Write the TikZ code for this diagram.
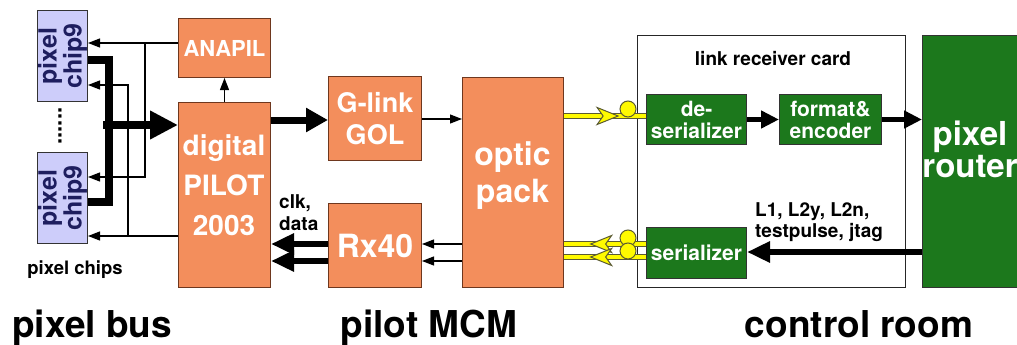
\documentclass[tikz,border=0pt]{standalone}
\usepackage{fontspec}
\setmainfont{TeX Gyre Heros}
\usetikzlibrary{arrows.meta,decorations.markings,calc}
\definecolor{orng}{RGB}{243,142,92}
\definecolor{orngedge}{RGB}{110,55,30}
\definecolor{grn}{RGB}{28,120,28}
\definecolor{chipfill}{RGB}{205,205,250}
\definecolor{chiptext}{RGB}{30,30,95}
\definecolor{fibyel}{RGB}{255,250,0}
\definecolor{fibedge}{RGB}{90,90,50}
\newcommand{\myfs}[2]{\fontsize{#1pt}{#2pt}\selectfont\bfseries}
\tikzset{
 obox/.style={draw=orngedge, fill=orng, line width=1pt, text=white, align=center, inner sep=0pt, anchor=north west},
 gbox/.style={draw=black!80, fill=grn, line width=1pt, text=white, align=center, inner sep=0pt, anchor=north west},
 chipbox/.style={draw=black!80, fill=chipfill, line width=1pt, inner sep=0pt, anchor=north west},
 cardbox/.style={draw=black!85, fill=white, line width=1pt, inner sep=0pt, anchor=north west},
 boxtext/.style={text=white, align=center, inner sep=0pt},
 lbl/.style={text=black, inner sep=0pt},
 thinarrow/.style={line width=1.2pt, -{Triangle[length=12pt,width=9pt]}},
 busline/.style={line width=7.5pt},
 busarrow/.style={line width=7.5pt, -{Triangle[length=28pt,width=27pt]}},
 bigarrow/.style={line width=7pt, -{Triangle[length=22pt,width=23pt]}},
 medarrow/.style={line width=6pt, -{Triangle[length=23pt,width=20pt]}},
 smallarrow/.style={line width=4.5pt, -{Triangle[length=18pt,width=17pt]}},
 fiber/.style={draw=fibedge, line width=1pt, double=fibyel, double distance=4.5pt},
 fibertip/.style={postaction={decorate}, decoration={markings, mark=at position #1 with {\filldraw[draw=fibedge, fill=fibyel, line width=1pt] (0pt,0pt) -- (-21pt,8.5pt) -- (-15pt,0pt) -- (-21pt,-8.5pt) -- cycle;}}},
 fibcirc/.style={circle, draw=fibedge, fill=fibyel, line width=1pt, minimum size=16pt, inner sep=0pt},
}
\begin{document}
\begin{tikzpicture}[x=1pt,y=-1pt]
\useasboundingbox[fill=white] (0,0) rectangle (1017,345);

% pixel chips
\node[chipbox, minimum width=50pt, minimum height=91pt] (chip1) at (37,10) {};
\node[rotate=90, text=chiptext, align=center, inner sep=0pt, font=\myfs{25}{24}] (chip1t) at (chip1.center) {pixel\\chip9};
\node[chipbox, minimum width=50pt, minimum height=91pt] (chip2) at (37,152) {};
\node[rotate=90, text=chiptext, align=center, inner sep=0pt, font=\myfs{25}{24}] (chip2t) at (chip2.center) {pixel\\chip9};
\node[rotate=90, lbl, font=\myfs{22}{22}] (dots) at (60,126) {......};
\node[lbl, font=\myfs{18.5}{20}] (chipslbl) at (75,270) {pixel chips};

% pilot MCM
\node[obox, minimum width=92pt, minimum height=59pt, font=\myfs{22}{26}] (anapil) at (178,18) {ANAPIL};
\node[obox, minimum width=92pt, minimum height=185pt] (pilot) at (178,102) {};
\node[boxtext, font=\myfs{28}{40}] (pilott) at (224,185) {digital\\PILOT\\2003};
\node[obox, minimum width=93pt, minimum height=84pt, font=\myfs{27}{32}] (glink) at (328,76) {G-link\\GOL};
\node[obox, minimum width=93pt, minimum height=84pt, font=\myfs{32}{36}] (rx) at (328,203) {Rx40};
\node[obox, minimum width=101pt, minimum height=210pt] (optic) at (462,77) {};
\node[boxtext, font=\myfs{32}{37}] (optict) at (512.5,176) {optic\\pack};
\node[lbl, align=left, anchor=west, font=\myfs{19}{22}] (clk) at (279,213) {clk,\\data};

% control room
\node[cardbox, minimum width=268pt, minimum height=252pt] (card) at (637,35) {};
\node[lbl, font=\myfs{19}{22}] (cardlbl) at (773,59) {link receiver card};
\node[gbox, minimum width=100pt, minimum height=50pt, font=\myfs{21}{22}] (deser) at (646,94) {de-\\serializer};
\node[gbox, minimum width=102pt, minimum height=50pt, font=\myfs{21}{22}] (fmt) at (779,94) {format\&\\encoder};
\node[gbox, minimum width=100pt, minimum height=51pt, font=\myfs{21}{22}] (ser) at (646,227) {serializer};
\node[gbox, minimum width=110pt, minimum height=252pt] (router) at (922,35) {};
\node[boxtext, font=\myfs{33}{32}] (routert) at (970,149) {pixel\\router};
\node[lbl, align=left, anchor=west, font=\myfs{19}{21}] (trig) at (755,222) {L1, L2y, L2n,\\testpulse, jtag};

% section labels
\node[lbl, anchor=base west, font=\myfs{37}{40}] (secbus) at (12,337) {pixel bus};
\node[lbl, anchor=base, font=\myfs{37}{40}] (secmcm) at (429,337) {pilot MCM};
\node[lbl, anchor=base, font=\myfs{37}{40}] (secroom) at (859,337) {control room};

% thin control lines to chips
\draw[thinarrow] (anapil.west |- 0,43) -- (chip1.east |- 0,43);
\draw[thinarrow] (145,43) |- (chip2.east |- 0,177);
\draw[thinarrow] (pilot.west |- 0,236) -- (chip2.east |- 0,236);
\draw[thinarrow] (128,236) |- (chip1.east |- 0,85);

% data bus
\draw[busline] (chip1.east |- 0,60) -| (109,202) -- (chip2.east |- 0,202);
\draw[busarrow] (103,125) -- (pilot.west |- 0,125);

% pilot MCM connections
\draw[thinarrow] (pilot.north) -- (anapil.south);
\draw[bigarrow] (pilot.east |- 0,120) -- (glink.west |- 0,120);
\draw[thinarrow] (glink.east |- 0,119) -- (optic.west |- 0,119);
\draw[thinarrow] (optic.west |- 0,244) -- (rx.east |- 0,244);
\draw[thinarrow] (optic.west |- 0,261) -- (rx.east |- 0,261);
\draw[medarrow] (rx.west |- 0,244) -- (pilot.east |- 0,244);
\draw[medarrow] (rx.west |- 0,261) -- (pilot.east |- 0,261);

% control room connections
\draw[smallarrow] (deser.east) -- (fmt.west);
\draw[smallarrow] (fmt.east) -- (router.west |- fmt.east);
\draw[medarrow] (router.west |- 0,252) -- (ser.east |- 0,252);

% optical fibres
\draw[fiber, fibertip=0.66] (optic.east |- 0,116) -- (deser.west |- 0,116);
\draw[fiber, fibertip=0.675] (ser.west |- 0,244) -- (optic.east |- 0,244);
\draw[fiber, fibertip=0.675] (ser.west |- 0,257) -- (optic.east |- 0,257);
\node[fibcirc] (fc1) at (628,109) {};
\node[fibcirc] (fc2) at (628,238) {};
\node[fibcirc] (fc3) at (628,251) {};
\end{tikzpicture}
\end{document}
